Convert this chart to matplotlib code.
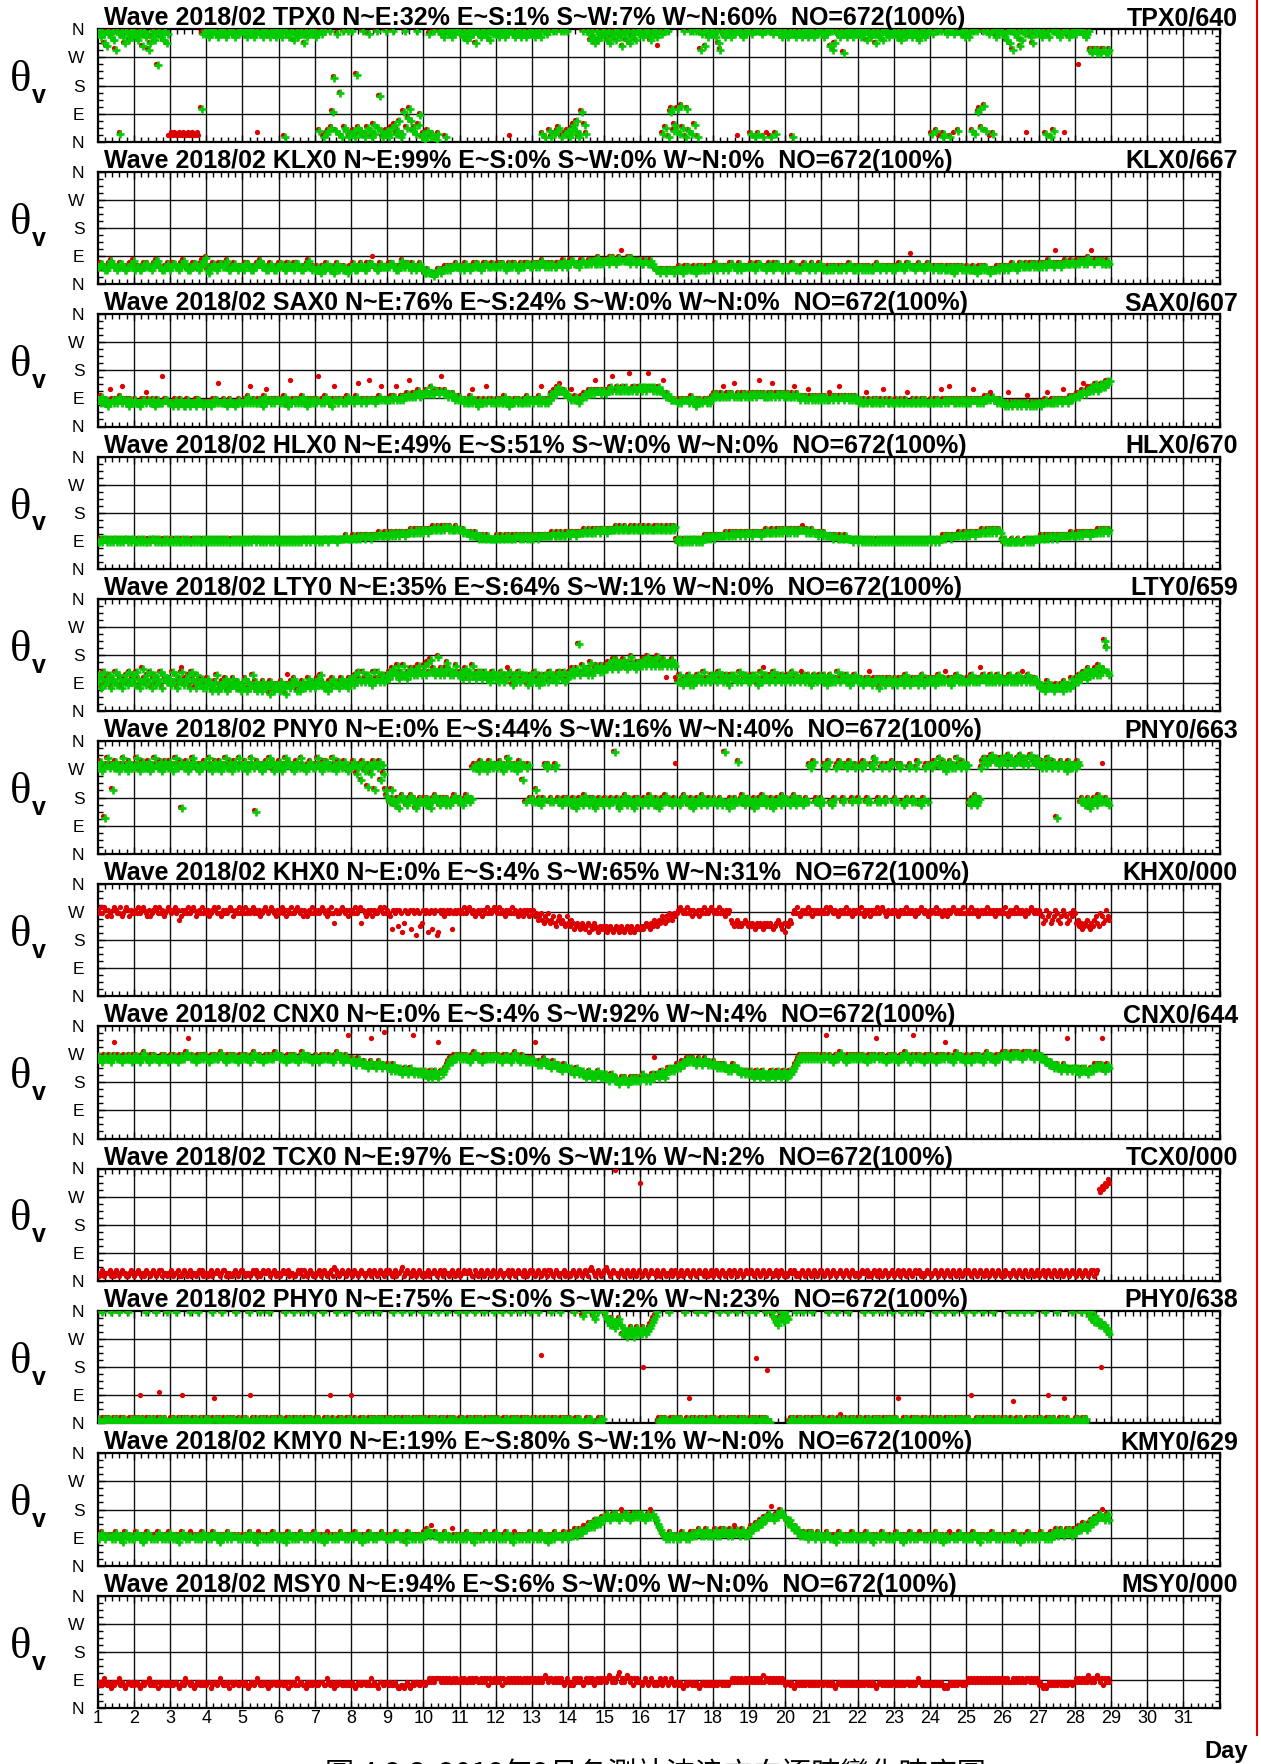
import matplotlib
matplotlib.use("Agg")
import matplotlib.pyplot as plt
from matplotlib.ticker import MultipleLocator
from matplotlib.lines import Line2D
import matplotlib.transforms as mtransforms

W, H = 1261, 1764
plt.rcParams['font.family'] = ['Liberation Sans', 'DejaVu Sans']

# ---------------- data ----------------
stations = ["TPX0", "KLX0", "SAX0", "HLX0", "LTY0", "PNY0",
            "KHX0", "CNX0", "TCX0", "PHY0", "KMY0", "MSY0"]
pct_ne = [32, 99, 76, 49, 35, 0, 0, 0, 97, 75, 19, 94]
pct_es = [1, 0, 24, 51, 64, 44, 4, 4, 0, 0, 80, 6]
pct_sw = [7, 0, 0, 0, 1, 16, 65, 92, 1, 2, 1, 0]
pct_wn = [60, 0, 0, 0, 0, 40, 31, 4, 2, 23, 0, 0]
total_no = [672] * 12
qc_no = ["640", "667", "607", "670", "659", "663",
         "000", "644", "000", "638", "629", "000"]
y_ticks = [0, 90, 180, 270, 360]
y_labels = ["N", "E", "S", "W", "N"]
x_days = list(range(1, 32))

# hourly wave directions, one string per day (Feb 1..28); char c -> CODE.index(c)*10+5 deg
# a leading '*' marks an hour that failed the check (red dot only)
CODE = "0123456789ABCDEFGHIJKLMNOPQRSTUVWXYZ"

DIR_TPX0 = ("YZXZYVUZYXZWTZY2ZXVZYWZX", "ZYXWZYUZXYTVXZWYOZXYWZVY",
            "*1*1*2*1*2*1*1*2*1*1*2*1*1*2*1*1*2*1*1*2*1AYZ", "YZXZYZZYXZYZZXYZZYZXYZYZ",
            "ZYZXZYZZXYZ*2YZXZZYXZYZXZ", "YZXZ1ZYXZZWYZXYZYVZXYZYZ",
            "ZXY3ZY1Z23Z49K3Y2F1Z43Z1", "2Z31L423Z124Y3152Z4E312Z",
            "3124Z5236129Z47A6342Z581", "2013Y12Z102ZYZX1ZYZXZYZZ",
            "ZYXZYWZXZYZVZYXZZYXZWZYZ", "YZXZYZXZYZ*1ZYXZYZXYZXYZY",
            "ZYXZYZX2Z1YZ31Z2Z34Z1Z2Z", "3124536129Z52ZYWZXVZWYXZ",
            "ZYWZVXYZWZYXUZYWZVXZYWZY", "ZYXZYZXWZYZX*UZY2Z4Z19A35",
            "3A2B4Z1A3Z2Z5Z1ZTYZUZXYZ", "ZYXZVTZYXZYZXYZYZ*1ZYXZYZ",
            "Z2YZ1Z2ZY1ZZ*2Z1YZ2ZYZXZ", "ZYXZY1ZXYZYXZYZXZYZXYZYZ",
            "ZYXZYZUZTVZYXZYSZXZYZXYZ", "YZXZYZWZYXZYVZXYZWZYZXYZ",
            "ZYXZYWZYXZYZXZYZXWZYZXYZ", "Z2YZ3Z*1Z12ZYZ1ZY*2Z3ZYZX",
            "ZYXZ3Z2Z9A4ZB3ZY*1Z2ZXZYZ", "ZYXWZVZTZYXZUWZYZ*2ZXVZYZ",
            "ZYXZY2ZX1Z3ZYZXYZZ*2ZXYZY", "ZYZ*OZYZXYZTSTTSTSSTTSST")

DIR_KLX0 = ("556654456765545665445565", "745544565655456775544556",
            "456655456765445566545676", "843556545665567445565455",
            "546665445566756544565445", "566544665546665445567545",
            "445435446545435645545434", "556445565446566*854456555",
            "556665445575566546545565", "433433323344344545455565",
            "455465545565654556655565", "556566545655665456556665",
            "566565676565656556665765", "667766656776667677668676",
            "777687876787*A77786877677", "766776676544434443444434",
            "445434545444534545445455", "456455545545665545645555",
            "556545665554556546565545", "554556545445565545654556",
            "545445454554545545565445", "455454545445565455545554",
            "545565545665*954556554556", "554554545544545535455454",
            "454445434545454434444545", "545545565545665565566565",
            "565665676656*A66566766676", "667677676877*A67777676676")

DIR_SAX0 = ("887978867*B8787897*C878687", "787767887*A8778678777*F887",
            "776786787667867776887767", "777678787*D77876787767787",
            "778797*C7877878697*B878788", "878798687*E87878797868787",
            "878*F787987868*C878878798", "887898*D788788*E8878898*C88",
            "8889898*C89899A9*E9A9AB9A", "AABAACAABBAB*FABA9A9A898",
            "988787797*B87687787*C8787", "787877978687788787787978",
            "8788797*C87878A9BACB*DBABA", "998*B8987899A9ABABAB*EBBAB",
            "BABBCB*FBCBBCBCBB*GBCBBC", "CBCCBC*GCBCBBCBBA*E9A98888",
            "*778788*787897868787*787878", "9A9A99A9*C9A9AA9*D9A99A9A9",
            "9A9AA9AA*EA9A99A9A*D9AA9AA9", "A9A99A9*CA9899898*B9898989",
            "898988*A989989*C9899898989", "8787787*A8778787787*B87787",
            "7787787787*A7787787787877", "787787877*B87878*C8787878787",
            "878788*B87878789898*A9887878", "77676*A767767767767*9676767",
            "7767787*A7787878878*B878989", "99A9AAB*DAB*CBCBCDCBCDCDCEDE")

DIR_HLX0 = ("889899898989989898998989", "988989898898998989889898",
            "898989889898988989898898", "989898989898989889898989",
            "898989899899898989898998", "989898989898989899899899",
            "899898999899999899999A99", "99A99A9AA9AAA9AAAAABAAAB",
            "AABABABBABBBABBBCBBCBCBC", "BCCBCCCDCCDCCDCDDCDCCCDC",
            "CCBCBBBABAABA9A9A99A9999", "9A99A99A9A99A9AA9A9AA9A9",
            "A9AA9AAAAAAAAABAABAABAAB", "BABBBABBBBBCBBCBBCBCCBCC",
            "CCBCCCCCDCCDCCDCCCDCCDCC", "DCCDCCDCCCDCDCCDCCDCCDCD",
            "9898898989899898989A9A9A", "A9AAAAAAABAABABABBABBABB",
            "BBABBBBBABBBCBBBCBBCBCBC", "CBCBCCBCBCCC*DCBCBBCBBBAB",
            "BABAAAAA9AA99A99A9999899", "899898989898898989898989",
            "898989898989898989898989", "989899899A9AAA9AAAAABAAB",
            "ABABBBABBBBCBBCBCBCCBCCB", "989888898889888*8989898999",
            "99A99A9AA9AA9AAAAAAAAABA", "AABABABBBBABBBBBCBCBCCBC")

DIR_LTY0 = ("9B7AC8A9B7A9C8BA79AB8C9A", "B8CA79DA8B9C7AB8A9C7BA9A",
            "A8C9B79AC*D8A9B7CA97B98A78", "7A98679B68798A6978A87986",
            "87A6978B7968769878597687", "8697858*B798A968679788A798",
            "79A8B9788697A98879A8987A", "9A8B9CA9C9AB9A8C9AC9AB9A",
            "BACBDCBEACBEBACBDCBDBECB", "CEBFCGCDBCHBDCBDFDBCBCEB",
            "BCACDBACBEBACBCABCAB9ACB", "AB9ACA9BA*DCA8B9AC9ABAB8AB",
            "9AC9A8BA9BB9CABA9BCBAC9A", "BCBDBCDLBCECDBDFBCDEDCEC",
            "DEDFEDGEGDFEFGEDFEHFEDFE", "FEGFEHFEFGEFHEFEGFE*AFEGFE",
            "*A9B98A9AB8A8A9BA9AC9AA9B", "ABA9CAB9ABA8BABA9AC9BAB9",
            "A9BABA8AC9A*DBA9BAC9ABA9BA", "9AB9AC9ABA9A*CB9ABA8ABA9AB",
            "A9BA8AB9A9AC9ABA9BA8A9BA", "9A9A89A9A*C89A9A7A9A89A9A8",
            "9A89A9A8B9A89A9A8A9B89A9", "A9A8A9B9A9A*C9A8A9AB9A9A9",
            "9A9AB9A9A9A*DBA9A9B9A9AB9A", "A9A9AB9A9A9BA9A*C9AB9A9AA9",
            "8787679787678778698787A8", "9A9BABCBADBCBCDBEBCDMKCB")

DIR_PNY0 = ("SRTQRBSURSKRTSQRSURSQTSR", "RSUSQSTRRSTQSRUSRSTQRTSR",
            "TSQSURSTERSTQRSUTSRQSRST", "SRUSQSTRSTQRSURSTQRTSRUS",
            "RSTQRSUSRDTRSQSRTSUSTQRS", "STQRSUSTSRQSTSRUSRQRSTSR",
            "RSUSRQTSTRSRUSQRTSRSTRQR", "RSTSPRSNTQRLSPRTKSRTNSPK",
            "IHGKHFGHEHIHGFGHIGHEFGHG", "GHFHGEGHIHGFHGHFHGFGHIHG",
            "HGFGHIHGHRSRSQTSRSQSTSRS", "SRSTSQSRUTRSRSQSTRNSGRSH",
            "GHGKGHFGHSRSGHGRSGHGFGHG", "HGFGHEFGHGFIHGFHGHEFGHGF",
            "GHGFGHGWGHEFGHIFGHGFEHGH", "GFGHGFIHGFGHEFGHGIGHGFGH",
            "*SGFGHIHGFGHEFGHGFIHGFGHG", "GHGFGHFGWGFEHGFHGTGHIFGH",
            "HGFEHGFHGIGFHGFHEFGHGFIH", "GHGFGHIFHGHGFGHGSRSTGHGF",
            "HGSRSTGFGHRSTSGHSRSTGHRS", "GHSRTSGHGSRUTGHGRSGHSRST",
            "GHGSRSGFGHRSGHGRTGFGHRSG", "SRST*RSUSRTQRSTRSRUSSRTS",
            "RSGFHGIFGHRTUTSUTVUTUTSU", "TUTSVTUTSTUTVTSUTSUVUTSU",
            "TSRTSRUTSRTSBRSTSRSQTSRS", "SRTSGHGFGHEFGHGFIHG*SGHGF")

DIR_KHX0 = ("RQSQSRPRQPRSRQQSPQRSRPRQ", "QRQSQRSRQPRPQRSRQSQRPQRS",
            "RQRSQROPRQRQSQRSRPQRQSQR", "QRPQRSRQSQPRQRQRSRPQRQSQ",
            "RQSQRQRSQRQRPQRSRQRSRQPR", "QRSQRPRQSQQRSRQRPRQPRQSQ",
            "RQRQRSRQPRQSQNRQQRSRQRPR", "QRQSQRSNRQPRQRPRQQRSRQSQ",
            "RQPLRQRMRQKNRQQRLRQJRQMN", "RQRKQRLQRJKRQRPQRQRLQRQR",
            "QRQSQRSRQRPQRQRPRQSQRQRS", "RQSQRQPRQRQSQRQPRQPRQRPR",
            "QRPQOPQONPOQNOPNMOPNONMP", "NMONLMNMLNMLMNKMLNMLKMLM",
            "LMKLMLKLMLKMLKLMLKMLKLML", "LMLMNMLNMONMONPONPOQPOQP",
            "QRSRQRQSQRPRQQRPRQSQRQRS", "RQRQSQRQPRQRONMNOMNMNONM",
            "NMNMLNMNMLNMNMNMLMNONMLN", "KNMONQRQSQPRQRQSQRPRQRQR",
            "QRQSQRSRQRQPRQRQSQRQPRQR", "RQSQPRQRPRQRQSQRSRQPRQQR",
            "QRQPRQRQSQRQRQPRQRSRQRQP", "RQRQSQRQPRQPRQRSRQRQRQSQ",
            "QRQSQRQRPQRQRQSQRQRPRQRQ", "RQSQPRQRQSQRQRQPRQRSRQRQ",
            "RQPNORPQNOPRQONPRQPNOQPR", "QNOMNLMNOMLNMOPNMQPNORPO")

DIR_CNX0 = ("PQPOPQPPQOPQ*UPQPOPQPPQPO", "QPQPOPQRQPOPQPQPPOPQPQPO",
            "PQPQPOPQPPQRQ*VPQPOPQPQPQ", "QPOPQPQPPQRQPOPQPQPQPOPQ",
            "PQPQPOPQRQPPQPOPQPQPPQRQ", "QPQPPOPQPQPQPOPQRPQPQPOP",
            "PQPOPQPQPPQPOPQRQPQOPQP*W", "OPONOPONNONMNO*VNMNONMN*X",
            "MNMLMNLMLMLKLMLKLMLK*WLKLKL", "KLKJKLJKLKJ*ULKLMNOPOPQPQ",
            "PQPQPQPOPQRQPQPOPQPQPQPQ", "QPQPOPQPQPOPQRQPOPQPOPOP",
            "OPO*UNONOPNONMNONMNMLMNM", "MLMLKLMKLKLKJKLKJKJKLKJK",
            "JKJIJKJIJIHIJIJIHIJIJIJI", "IJKJIJIJKJ*PKJKLKJKLMLMLM",
            "MNMNONOPOPOPONOPONOPONON", "NONMNMNMNMLMLMNMLMLKLKLK",
            "KLKJKLKJKLKJKJKLKJKLKJKL", "KJKLKLMNOPQPQPQPQPQPQPQP",
            "PQPQ*WPQPOPQPQRQPOPQPQPQP", "QPQPQPOPQPQPQ*VPQPQPOPQPQ",
            "PQPOPQPQRQPOPQ*WPQPQPOPQP", "QPQPOPQPQPQ*UPQPOPQRQPQPO",
            "PQPOPQPQPQPOPQRQPQPOPQPQ", "QRQRQPQRQRQRQPQRQRQRQPQR",
            "QPQPOPONONMNMNMLMNML*VMLM", "MLMKLMLMLKLMLMNMNMN*VLMNM")

DIR_TCX0 = ("212312223121321232211232", "122321213221232123312212",
            "231223112321231221232312", "212312232123312211232123",
            "321221232312123223122312", "212322312211232313212321",
            "122312321223143212322132", "213221232122312321232213",
            "232123122341232213212321", "212312232123213221232123",
            "122322321132123212322132", "212321223123212322132123",
            "321232123213321232122312", "212321232123213432123212",
            "3432123Z2123212321232123", "V12321232213212321223123",
            "212312232123212322132123", "123212321223123212321232",
            "232123212321232212312321", "212322312123212321232123",
            "321232123212321232123212", "212322312123213212321223",
            "122312321232123223121232", "212321232123212321232123",
            "232123212322132123212321", "213221232123212321232123",
            "122312321232123212321232", "2123212321233123TSUTVUWV")

DIR_PHY0 = ("010Z10101Z0101Z01010Z010", "10101*810Z10101Z01*9101Z0",
            "0101Z0101*8101Z0101Z0101", "1010Z1*7101Z01010101Z010",
            "0101Z0*81010Z10101Z01010", "1010Z01010Z10101Z010101Z",
            "01010Z01010*810Z01010Z10", "1*8010Z01010Z10101Z10101",
            "0101Z01010Z10101Z010101Z", "1010Z10101Z01010Z101010Z",
            "0101Z01010Z10101Z010101Z", "1010Z01010Z10101Z010101Z",
            "0101Z01*L0101Z01010Z1010", "1010Z01010YZ0101ZYX0Z101",
            "ZYXWVXWUVWXVSUTRSTUSRTUS", "TSU*HSTUVWXYZ0101010Z0101",
            "01010Z010*7101Z0101Z0101", "1010Z01010Z10101Z010101Z",
            "0101Z1*K0101Z1*G0ZYXWVXZYW", "ZYX0101Z0101Z01010Z10101",
            "1010Z01010Z10*2101Z01010", "0101Z01010Z10101Z010101Z",
            "1010*7Z01010Z10101Z01010", "0101Z01010Z10101Z010101Z",
            "1010*8Z01010Z10101Z01010", "0101Z010*6Z1010Z0101Z010",
            "1010Z01*81010Z0101*7010Z0", "0101Z0101ZYZXWYXWVW*HUVUTS")

DIR_KMY0 = ("989A989*89898A98979A9898", "89A989798A98*9898A989898",
            "A9898979A98989*A989898A9", "98989A98979898A989*89898",
            "89898A98979*A98989898A98", "9898979A9898989A98989*898",
            "A98989798*A9898989A98989", "989A98979898A98989*89A98",
            "898989A989*8979A98989898", "9A9B9A*C9A98989A9898*B989",
            "89898A98979*898989A98989", "A989898A98979*A98989898A",
            "989898A98979898A9*8989A9", "89A9AB9ABAB*CBCDCDCEDEDEF",
            "EFGFEFGFGFEF*HGFGFEFGFGFG", "FGFEFGF*HGFEDCBA9898A989",
            "8989A98989A9A9AB9A9AB9A9", "9AB9A9BABA9AB9A*CBA9AB9A9",
            "ABCBCDCDEDEFEFGF*IEFGFGHGF", "FEDEDCBCBA9A9A98A9A989A9",
            "8989A98*98979A98989898A98", "989898A98979*8989A989898",
            "89A98979898A98989*A98989", "9898A98979898*A98989A989",
            "89898A98979*898989A98989", "98989898A9879*9898A98989",
            "89A989898A9AB9ABA9*ABAB9A", "BABCBCDCBCDEDEFEFGF*HEFGE")

DIR_MSY0 = ("878798787687889787678878", "788767878897877868788787",
            "877887678798878767887878", "788678878987787688788778",
            "878767887898778876878878", "788778687887978877687878",
            "877888779878768788778787", "787678878878797877688778",
            "878778766776787678788778", "878898989999898989889898",
            "898988989899889898979889", "898979889898989898898989",
            "989898989A98998989898789", "878798989878989897898989",
            "989A98989AB8989A98979898", "878987898787897898789878",
            "878767878878787678878787", "878788787878898989898989",
            "898989898A89989898989898", "788787678787878878787878",
            "878878787678878787878787", "787878878787678878787878",
            "878787878878787898878787", "787878787676787878788787",
            "898989898989898989898989", "898988898989898899898989",
            "787676787878788787878878", "898989898A98989A98979898")

directions = [DIR_TPX0, DIR_KLX0, DIR_SAX0, DIR_HLX0, DIR_LTY0, DIR_PNY0,
              DIR_KHX0, DIR_CNX0, DIR_TCX0, DIR_PHY0, DIR_KMY0, DIR_MSY0]


def decode(days):
    xs, ys, bad = [], [], []
    for d, day in enumerate(days):
        pts = []
        flag = False
        for ch in day:
            if ch == "*":
                flag = True
                continue
            pts.append((CODE.index(ch) * 10 + 5, flag))
            flag = False
        n = len(pts)
        for j, (v, f) in enumerate(pts):
            xs.append(1 + d + j / n)
            ys.append(v)
            bad.append(f)
    return xs, ys, bad


# ---------------- figure ----------------
GREEN = "#00CC00"
RED = "#DD0000"
fig = plt.figure(figsize=(W / 100, H / 100), dpi=100)

AX_L, AX_R = 97.6, 1219.5
TOP0, STEP, PH = 29.3, 142.4, 112.4


def fx(px):
    return px / W


def fy(py):
    return 1 - py / H


for k, st in enumerate(stations):
    top = TOP0 + k * STEP
    ax = fig.add_axes([fx(AX_L), fy(top + PH), (AX_R - AX_L) / W, PH / H])
    ax.set_xlim(1, 32)
    ax.set_ylim(0, 360)
    for xv in x_days[1:]:
        ax.axvline(xv, color="#111111", lw=1.0, zorder=1)
    for yv in y_ticks[1:-1]:
        ax.axhline(yv, color="#111111", lw=1.0, zorder=1)

    xs, ys, bad = decode(directions[k])
    if qc_no[k] == "000":
        ax.plot(xs, ys, "o", color=RED, ms=3.8, mew=0, zorder=3)
    else:
        off = ax.transData + mtransforms.ScaledTranslation(-1.2 / 72, 1.2 / 72, fig.dpi_scale_trans)
        ax.plot(xs, ys, "o", color=RED, ms=3.8, mew=0, transform=off, zorder=3)
        gx = [x for x, b in zip(xs, bad) if not b]
        gy = [y for y, b in zip(ys, bad) if not b]
        ax.plot(gx, gy, "+", color=GREEN, ms=5.6, mew=1.9, zorder=4)

    ax.set_yticks(y_ticks)
    ax.set_yticklabels(y_labels, fontsize=12.5)
    ax.yaxis.set_minor_locator(MultipleLocator(22.5))
    ax.set_xticks(x_days)
    ax.xaxis.set_minor_locator(MultipleLocator(0.2))
    ax.tick_params(which="both", direction="in", top=True, right=True, width=1.0)
    ax.tick_params(which="major", length=5)
    ax.tick_params(which="minor", length=3.5)
    ax.tick_params(axis="y", pad=9.5)
    if k == len(stations) - 1:
        ax.set_xticklabels([str(d) for d in x_days], fontsize=13)
        ax.tick_params(axis="x", pad=1.5)
    else:
        ax.tick_params(axis="x", labelbottom=False)
    for sp in ax.spines.values():
        sp.set_linewidth(1.6)

    title = (f"Wave 2018/02 {st} N~E:{pct_ne[k]}% E~S:{pct_es[k]}% "
             f"S~W:{pct_sw[k]}% W~N:{pct_wn[k]}%  NO={total_no[k]}(100%)")
    fig.text(fx(104), fy(top - 4), title, fontsize=18, fontweight="bold",
             ha="left", va="baseline")
    fig.text(fx(1238), fy(top - 4), f"{st}/{qc_no[k]}", fontsize=18,
             fontweight="bold", ha="right", va="baseline")
    fig.text(fx(21), fy(top + 51), "\u03b8", fontsize=32, family=["Liberation Serif", "DejaVu Serif"],
             ha="center", va="center")
    fig.text(fx(32), fy(top + 74), "v", fontsize=18, fontweight="bold",
             ha="left", va="baseline")

fig.text(fx(1248), fy(1758), "Day", fontsize=17, fontweight="bold", ha="right", va="baseline")
fig.text(fx(655), fy(1760), "圖 4.2.3  2018年2月各測站波浪方向逐時變化時序圖",
         fontsize=21, family=["Noto Sans CJK TC", "DejaVu Sans"], ha="center", va="top")
fig.add_artist(Line2D([fx(1257), fx(1257)], [fy(1735), 1.0], color="#E00000", lw=1.5))

fig.savefig("out.png", dpi=100)
